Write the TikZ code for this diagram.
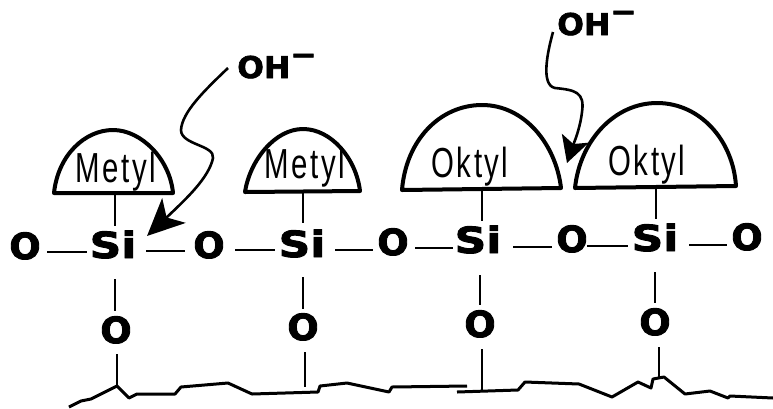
\documentclass[tikz,border=0pt]{standalone}
\usepackage{fontspec}
\usetikzlibrary{arrows.meta}
\newfontfamily\atomO[FakeStretch=1.02,FakeBold=2.5]{DejaVu Sans Bold}
\newfontfamily\atomSi[FakeStretch=1.22,FakeBold=2.5]{DejaVu Sans Bold}
\newfontfamily\ohfont[FakeStretch=1.05,FakeBold=2]{DejaVu Sans Bold}
\newfontfamily\groupfont[FakeStretch=0.7,LetterSpace=6]{Liberation Sans}
\tikzset{
  atomo/.style={inner sep=0pt,anchor=base,font=\atomO\fontsize{36}{36}\selectfont},
  atomsi/.style={inner sep=0pt,anchor=base,font=\atomSi\fontsize{36}{36}\selectfont},
  ohlabel/.style={inner sep=0pt,anchor=base west,font=\ohfont\fontsize{30}{30}\selectfont},
  grouplabel/.style={inner sep=0pt,anchor=base,font=\groupfont\fontsize{42}{42}\selectfont},
  dome/.style={draw=black,line width=4pt,line join=round,fill=white},
  bond/.style={draw=black,line width=2.4pt},
  surface/.style={draw=black,line width=3pt,line join=round},
}
\newcommand{\conn}[4]{\draw[bond] ([shift={(#2)}]#1.base) -- ([shift={(#4)}]#3.base);}
\begin{document}
\begin{tikzpicture}[x=1pt,y=-1pt]
\useasboundingbox (0,0) rectangle (773,408);
% domes
\draw[dome] (54,193) .. controls (58,155) and (85,130) .. (113,130) .. controls (142,130) and (170,160) .. (173,193) -- cycle;
\draw[dome] (245,192) .. controls (250,160) and (275,129) .. (303,129) .. controls (331,129) and (356,158) .. (360,191) -- cycle;
\draw[dome] (402,190) .. controls (406,140) and (440,105) .. (482,105) .. controls (525,105) and (556,145) .. (561,188) -- cycle;
\draw[dome] (575,188) .. controls (580,140) and (615,103) .. (657,103) .. controls (700,103) and (733,140) .. (736,186) -- cycle;
\node[grouplabel] (g1) at (116,182) {Metyl};
\node[grouplabel] (g2) at (305,178) {Metyl};
\node[grouplabel] (g3) at (470,177) {Oktyl};
\node[grouplabel] (g4) at (647,175) {Oktyl};
\coordinate (d1) at (115,193);
\coordinate (d2) at (303,192);
\coordinate (d3) at (482,190);
\coordinate (d4) at (656,188);
% chain atoms
\node[atomo] (O1) at (25,259) {O};
\node[atomsi] (Si1) at (113,258) {Si};
\node[atomo] (O2) at (209,258) {O};
\node[atomsi] (Si2) at (302,257) {Si};
\node[atomo] (O3) at (393,255) {O};
\node[atomsi] (Si3) at (478,253) {Si};
\node[atomo] (O4) at (572,252) {O};
\node[atomsi] (Si4) at (655,251) {Si};
\node[atomo] (O5) at (747,250) {O};
% lower oxygens
\node[atomo] (L1) at (116,343) {O};
\node[atomo] (L2) at (303,340) {O};
\node[atomo] (L3) at (480,337) {O};
\node[atomo] (L4) at (655,335) {O};
% chain bonds
\conn{O1}{22,-7}{Si1}{-26,-6}
\conn{Si1}{33,-7}{O2}{-24,-7}
\conn{O2}{26,-8}{Si2}{-27,-7}
\conn{Si2}{33,-7}{O3}{-20,-5}
\conn{O3}{22,-7}{Si3}{-25,-5}
\conn{Si3}{35,-6}{O4}{-20,-5}
\conn{O4}{15,-6}{Si4}{-27,-5}
\conn{Si4}{34,-6}{O5}{-20,-5}
% dome stems
\draw[bond] (d1) -- ([shift={(2,-32)}]Si1.base);
\draw[bond] (d2) -- ([shift={(1,-34)}]Si2.base);
\draw[bond] (d3) -- ([shift={(4,-32)}]Si3.base);
\draw[bond] (d4) -- ([shift={(1,-32)}]Si4.base);
% Si to lower O
\conn{Si1}{2,21}{L1}{-1,-32}
\conn{Si2}{1,20}{L2}{0,-31}
\conn{Si3}{2,22}{L3}{0,-32}
\conn{Si4}{0,21}{L4}{0,-32}
% surface
\coordinate (s1) at (117,386);
\coordinate (s2) at (305,387);
\coordinate (s3) at (482,391);
\coordinate (s4) at (659,377);
\draw[bond] ([shift={(1,11)}]L1.base) -- (s1);
\draw[bond] ([shift={(2,12)}]L2.base) -- (s2);
\draw[bond] ([shift={(2,12)}]L3.base) -- (s3);
\draw[bond] ([shift={(4,12)}]L4.base) -- (s4);
\draw[surface] (69,407) -- (81,401) -- (91,399) -- (117,386) -- (129,398) -- (137,394) -- (175,394) -- (181,387) -- (228,383) -- (252,394) -- (318,392) -- (320,386) -- (347,383) -- (389,392) -- (392,387) -- (467,386);
\draw[surface] (457,392) -- (518,390) -- (525,382) -- (579,384) -- (612,397) -- (638,382) -- (651,388) -- (653,379) -- (664,377) -- (685,394) -- (710,391) -- (728,398) -- (730,396) -- (773,398);
% hydroxide labels
\node[ohlabel] (OH1) at (237,78) {OH\raisebox{13pt}{−}};
\node[ohlabel] (OH2) at (557,35) {OH\raisebox{13pt}{−}};
\coordinate (tip2) at (567,163);
% attack arrows
\draw[line width=2.6pt,-{Stealth[length=37pt,width=34pt,inset=10pt]}] ([shift={(-9,-10)}]OH1.base west) .. controls (205,90) and (182,112) .. (181,130) .. controls (181,145) and (215,145) .. (213,158) .. controls (209,178) and (185,200) .. ([shift={(34,-22)}]Si1.base);
\draw[line width=2.6pt,-{Stealth[length=26pt,width=28pt,inset=6pt]}] ([shift={(-4,-3)}]OH2.base west) .. controls (548,50) and (540,85) .. (555,88) .. controls (575,90) and (585,92) .. (582,112) .. controls (580,130) and (572,148) .. (tip2);
\end{tikzpicture}
\end{document}
